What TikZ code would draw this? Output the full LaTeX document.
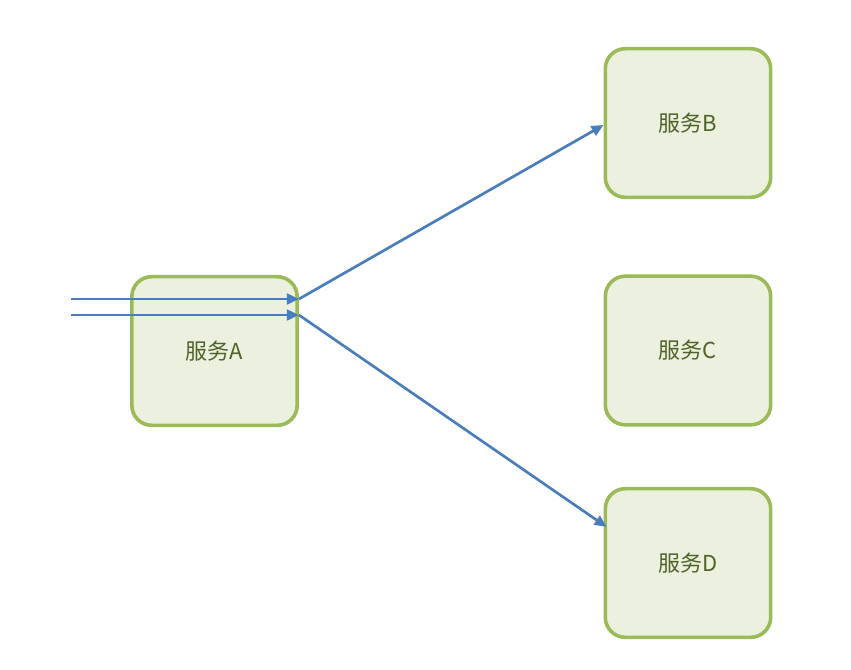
\documentclass[tikz,border=0pt]{standalone}
\usepackage{fontspec}
\setmainfont{Noto Sans CJK SC}
\usetikzlibrary{arrows.meta,calc}
\definecolor{boxfill}{HTML}{EBF1DE}
\definecolor{boxline}{HTML}{9BBB59}
\definecolor{boxtext}{HTML}{4F6228}
\definecolor{arrowc}{HTML}{4A7EBB}
\tikzset{
  svc/.style={draw=boxline, fill=boxfill, line width=2.7pt, rounded corners=15pt,
    minimum width=124pt, minimum height=111.5pt, inner sep=0pt,
    text=boxtext, font=\fontsize{16.5}{20}\selectfont},
  flow/.style={draw=arrowc, line width=2pt, -{Triangle[length=9pt,width=8pt]}}
}
\begin{document}
\begin{tikzpicture}[x=0.75pt,y=-0.75pt]
\useasboundingbox (0,0) rectangle (851,669);
\node[svc] (A) at (214.5,351) {服务A};
\node[svc] (B) at (688,123) {服务B};
\node[svc] (C) at (688,350.5) {服务C};
\node[svc] (D) at (688,563) {服务D};
\coordinate (s1) at (71,299);
\coordinate (s2) at (71,315);
\coordinate (a1) at (A.east |- s1);
\coordinate (a2) at (A.east |- s2);
\coordinate (d1) at ($(D.north west)+(3,40)$);
\draw[flow] (s1) -- (a1);
\draw[flow] (s2) -- (a2);
\draw[flow] (a1) -- ($(B.west)+(0,2)$);
\draw[flow] (a2) -- (d1);
\end{tikzpicture}
\end{document}
